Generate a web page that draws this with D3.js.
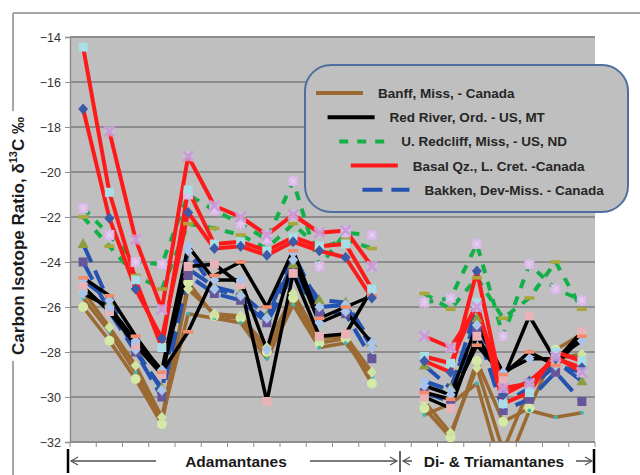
<!DOCTYPE html>
<html>
<head>
<meta charset="utf-8">
<script src="https://cdn.jsdelivr.net/npm/d3@7"></script>
<style>
html,body{margin:0;padding:0;background:#fff;}
svg{display:block;font-family:"Liberation Sans",Arial,sans-serif;}
</style>
</head>
<body>
<svg id="chart" width="640" height="475"></svg>
<script>
// ---------- DATA ----------
const categories = ["A1","A2","A3","A4","A5","A6","A7","A8","A9","A10","A11","A12","gap","D1","D2","D3","D4","D5","D6","D7"];
const yTicks = [-32,-30,-28,-26,-24,-22,-20,-18,-16,-14];
const groupNames = ["Banff, Miss, - Canada","Red River, Ord. - US, MT","U. Redcliff, Miss, - US, ND","Basal Qz., L. Cret. -Canada","Bakken, Dev-Miss. - Canada"];
const sectionLabels = ["Adamantanes","Di- & Triamantanes"];

// Banff (brown)
const banff1 = [-26.0,-27.5,-29.2,-31.2,-24.9,-26.4,-26.5,-28.0,-25.6,-27.6,-27.4,-29.4,null,-30.5,-31.8,-28.4,-31.1,-30.5,-27.9,-27.2];
const banff2 = [-25.6,-27.1,-28.9,-31.0,-26.3,-26.5,-26.7,-28.3,-25.9,-27.8,-27.6,-29.1,null,-30.8,-30.3,-29.4,-33.5,-30.6,-30.9,-30.7];
const banff3 = [-25.3,-26.9,-28.6,-30.9,-25.2,-26.3,-26.4,-27.8,-25.4,-27.4,-27.3,-28.9,null,-30.2,-31.6,-28.7,-32.4,-29.6,-28.3,-28.1];
// Red River (black)
const redRiver1 = [-25.1,-26.2,-27.7,-29.0,-24.2,-24.1,-25.0,-30.2,-24.5,-27.3,-27.2,-25.2,null,-30.0,-30.5,-27.3,-29.2,-26.4,-28.4,-27.1];
const redRiver2 = [-25.4,-26.0,-27.5,-28.8,-23.3,-24.8,-24.8,-27.9,-23.9,-26.7,-26.2,-27.6,null,-29.5,-29.9,-26.8,-28.9,-28.3,-28.3,-27.5];
const redRiver3 = [-24.7,-25.5,-27.3,-28.9,-27.1,-24.6,-24.0,-26.0,-23.5,-26.5,-26.0,-25.5,null,-29.8,-30.1,-27.7,-29.0,-28.0,-28.6,-27.3];
// U. Redcliff (green dashed)
const redcliff1 = [-21.6,-22.8,-24.0,-24.1,-21.0,-21.7,-22.3,-23.0,-20.4,-24.2,-22.7,-22.8,null,-25.8,-25.6,-23.2,-27.3,-24.1,-25.2,-25.7];
const redcliff2 = [-22.0,-23.3,-24.6,-25.2,-22.3,-22.5,-22.8,-23.4,-22.3,-23.4,-23.0,-23.4,null,-25.4,-26.1,-24.7,-26.5,-25.6,-24.0,-26.1];
// Basal Qz. (red)
const basal1 = [-14.45,-20.9,-24.8,-27.8,-20.8,-23.2,-23.1,-23.5,-22.9,-23.3,-23.2,-25.2,null,-28.2,-28.5,-25.8,-30.3,-29.8,-28.0,-28.4];
const basal2 = [-17.2,-22.05,-25.2,-27.4,-21.8,-23.4,-23.3,-23.7,-23.1,-23.5,-23.8,-25.6,null,-28.4,-28.9,-24.4,-29.9,-29.3,-28.3,-28.7];
const basal3 = [null,-18.2,-23.0,-26.1,-19.3,-21.5,-22.0,-22.8,-21.9,-22.7,-22.6,-24.2,null,-27.3,-27.8,-26.0,-29.6,-29.4,-28.2,-28.9];
// Bakken (blue dashed)
const bakken1 = [-23.2,-25.8,-28.0,-29.6,-24.3,-25.1,-25.4,-26.4,-24.1,-25.7,-25.8,-27.6,null,-28.6,-29.6,-26.5,-29.8,-29.3,-28.4,-29.3];
const bakken2 = [-24.0,-26.2,-28.0,-30.0,-24.6,-25.4,-25.7,-26.7,-24.5,-26.3,-26.3,-28.3,null,-29.8,-30.2,-27.0,-30.6,-30.1,-28.9,-30.2];
const bakken3 = [-24.8,-25.7,-27.9,-29.7,-23.5,-25.2,-25.5,-26.5,-23.6,-26.0,-25.9,-27.8,null,-29.3,-29.7,-26.0,-30.3,-29.6,-28.6,-28.9];

// ---------- STYLES ----------
const groupStyles = [
  {color:"#9b6a32", width:3.5, dash:null},
  {color:"#000000", width:3.5, dash:null},
  {color:"#13b04a", width:4, dash:"9,9"},
  {color:"#ff1a1a", width:4, dash:null},
  {color:"#2452b0", width:4, dash:"20,9"}
];
const markerStyles = {
  circle:{shape:"circle", fill:"#d5eaa6"},
  dot:{shape:"dot", fill:"#3cb8b0"},
  lgDiamond:{shape:"diamond", fill:"#cfe3a2"},
  pinkSq:{shape:"square", fill:"#e8b2b6"},
  lbDiamond:{shape:"diamond", fill:"#a9c3ea"},
  salmonDash:{shape:"dash", fill:"#f38a6c"},
  star:{shape:"star", fill:"#d5b3e3"},
  oliveDash:{shape:"dash", fill:"#a9a63c"},
  cyanSq:{shape:"square", fill:"#a9dee6"},
  dbDiamond:{shape:"diamond", fill:"#3b5ba8"},
  lavX:{shape:"x", fill:"#c99cd9"},
  oliveTri:{shape:"triangle", fill:"#8d9c3e"},
  purpleSq:{shape:"square", fill:"#66579a"}
};
const seriesList = [
  {values:banff1, group:0, marker:"circle"},
  {values:banff2, group:0, marker:"dot"},
  {values:banff3, group:0, marker:"lgDiamond"},
  {values:bakken1, group:4, marker:"oliveTri"},
  {values:bakken2, group:4, marker:"purpleSq"},
  {values:bakken3, group:4, marker:"lbDiamond"},
  {values:redRiver1, group:1, marker:"pinkSq"},
  {values:redRiver2, group:1, marker:"lbDiamond"},
  {values:redRiver3, group:1, marker:"salmonDash"},
  {values:redcliff1, group:2, marker:"star"},
  {values:redcliff2, group:2, marker:"oliveDash"},
  {values:basal1, group:3, marker:"cyanSq"},
  {values:basal2, group:3, marker:"dbDiamond"},
  {values:basal3, group:3, marker:"lavX"}
];

// ---------- CHART ----------
const svg = d3.select("#chart");
const plot = {left:70, right:595, top:37, bottom:442};

// outer frame
svg.append("line").attr("x1",13).attr("x2",640).attr("y1",13).attr("y2",13).attr("stroke","#a6a6a6").attr("stroke-width",2);
svg.append("line").attr("x1",13).attr("x2",13).attr("y1",13).attr("y2",475).attr("stroke","#a6a6a6").attr("stroke-width",2);

const x = d3.scaleBand().domain(categories).range([plot.left, plot.right]);
const y = d3.scaleLinear().domain([-32,-14]).range([plot.bottom, plot.top]);
const cx = c => x(c) + x.bandwidth()/2;

svg.append("rect").attr("x",plot.left).attr("y",plot.top).attr("width",plot.right-plot.left).attr("height",plot.bottom-plot.top).attr("fill","#bfbfbf");

// gridlines
svg.append("g").selectAll("line").data(yTicks).join("line")
  .attr("x1",plot.left).attr("x2",plot.right)
  .attr("y1",d=>y(d)).attr("y2",d=>y(d))
  .attr("stroke","#8e8e8e").attr("stroke-width",2);

// y axis
const yAxis = svg.append("g").attr("transform",`translate(${plot.left},0)`)
  .call(d3.axisLeft(y).tickValues(yTicks).tickSize(5).tickPadding(4).tickFormat(d3.format("d")));
yAxis.select(".domain").attr("stroke","#8e8e8e").attr("stroke-width",1.5);
yAxis.selectAll(".tick line").attr("stroke","#8e8e8e");
yAxis.selectAll("text").attr("font-size",12.5).attr("fill","#333").attr("font-family","Liberation Sans, Arial, sans-serif");

// x axis (category boundary ticks)
const xAxis = svg.append("g").attr("transform",`translate(0,${plot.bottom})`);
xAxis.append("line").attr("x1",plot.left).attr("x2",plot.right).attr("stroke","#8e8e8e").attr("stroke-width",1.5);
xAxis.selectAll(".bt").data(d3.range(categories.length+1)).join("line")
  .attr("x1",i=>plot.left + i*x.step()).attr("x2",i=>plot.left + i*x.step())
  .attr("y1",0).attr("y2",5).attr("stroke","#8e8e8e");

// clip
svg.append("clipPath").attr("id","clip").append("rect")
  .attr("x",plot.left).attr("y",plot.top-10).attr("width",plot.right-plot.left).attr("height",plot.bottom-plot.top+10);

const lineGen = d3.line().defined(d=>d.v!==null).x(d=>cx(d.c)).y(d=>y(d.v));
const lines = svg.append("g").attr("clip-path","url(#clip)");
seriesList.forEach(s=>{
  const st = groupStyles[s.group];
  const pts = categories.map((c,i)=>({c, v:s.values[i]}));
  lines.append("path").datum(pts).attr("d",lineGen)
    .attr("fill","none").attr("stroke",st.color).attr("stroke-width",st.width)
    .attr("stroke-linejoin","round").attr("stroke-dasharray",st.dash);
});

function drawMarker(g, shape, fill){
  switch(shape){
    case "circle": g.append("circle").attr("r",5).attr("fill",fill); break;
    case "dot": g.append("circle").attr("r",2).attr("fill",fill); break;
    case "diamond": g.append("path").attr("d","M0,-5.5L5,0L0,5.5L-5,0Z").attr("fill",fill); break;
    case "square": g.append("rect").attr("x",-4.5).attr("y",-4.5).attr("width",9).attr("height",9).attr("fill",fill); break;
    case "triangle": g.append("path").attr("d","M0,-6L5.5,4L-5.5,4Z").attr("fill",fill); break;
    case "dash": g.append("rect").attr("x",-5).attr("y",-1.8).attr("width",10).attr("height",3.6).attr("fill",fill); break;
    case "star":
      g.append("rect").attr("x",-5).attr("y",-5).attr("width",10).attr("height",10).attr("fill",fill);
      g.append("path").attr("d","M0,-5V5M-5,0H5M-3.5,-3.5L3.5,3.5M-3.5,3.5L3.5,-3.5").attr("stroke","#e3cdee").attr("stroke-width",1.2);
      break;
    case "x":
      g.append("rect").attr("x",-5).attr("y",-5).attr("width",10).attr("height",10).attr("fill","#d6bde2").attr("opacity",0.6);
      g.append("path").attr("d","M-5,-5L5,5M-5,5L5,-5").attr("stroke",fill).attr("stroke-width",2.6);
      break;
  }
}
const markers = svg.append("g").attr("clip-path","url(#clip)");
seriesList.forEach(s=>{
  const ms = markerStyles[s.marker];
  categories.forEach((c,i)=>{
    const v = s.values[i];
    if(v===null) return;
    const g = markers.append("g").attr("transform",`translate(${cx(c)},${y(v)})`);
    drawMarker(g, ms.shape, ms.fill);
  });
});

// legend
const lg = svg.append("g");
lg.append("rect").attr("x",305).attr("y",65).attr("width",323).attr("height",147).attr("rx",26).attr("ry",26)
  .attr("fill","#bfbfbf").attr("stroke","#4e6f9e").attr("stroke-width",2);
groupNames.forEach((name,i)=>{
  const st = groupStyles[i];
  const lx = 316 + i*11.6, ly = 93 + i*24.2;
  lg.append("line").attr("x1",lx).attr("x2",lx+47).attr("y1",ly).attr("y2",ly)
    .attr("stroke",st.color).attr("stroke-width",4).attr("stroke-dasharray",st.dash);
  lg.append("text").attr("x",lx+62).attr("y",ly+5).text(name)
    .attr("font-size",13.5).attr("font-weight","bold").attr("fill","#262626");
});

// y title
const ttlG = svg.append("g").attr("transform","translate(24,236) rotate(-90)");
const ttlBg = ttlG.append("rect").attr("fill","#fff");
const ttl = ttlG.append("text").attr("text-anchor","middle").attr("font-size",17).attr("font-weight","bold").attr("fill","#1a1a1a");
ttl.append("tspan").text("Carbon Isotope Ratio, δ");
ttl.append("tspan").text("13").attr("font-size",11).attr("dy",-7);
ttl.append("tspan").text("C ‰").attr("dy",7);
const bb = ttl.node().getBBox();
ttlBg.attr("x",bb.x-6).attr("y",bb.y).attr("width",bb.width+12).attr("height",bb.height);

// section annotation
const ann = svg.append("g");
const ay = 461;
ann.append("line").attr("x1",68).attr("x2",68).attr("y1",449).attr("y2",473).attr("stroke","#000").attr("stroke-width",2.5);
ann.append("line").attr("x1",594).attr("x2",594).attr("y1",449).attr("y2",473).attr("stroke","#000").attr("stroke-width",2.5);
ann.append("line").attr("x1",400).attr("x2",400).attr("y1",451).attr("y2",472).attr("stroke","#333").attr("stroke-width",1.5);
const arrows = [[156,71],[310,397],[412,403],[576,592]];
arrows.forEach(([x1,x2])=>{
  ann.append("line").attr("x1",x1).attr("x2",x2).attr("y1",ay).attr("y2",ay).attr("stroke","#7a7a7a").attr("stroke-width",2);
  const dir = x2>x1?-1:1;
  ann.append("path").attr("d",`M${x2+dir*7},${ay-4}L${x2},${ay}L${x2+dir*7},${ay+4}`).attr("fill","none").attr("stroke","#555").attr("stroke-width",1.2);
});
ann.append("text").attr("x",236).attr("y",467).attr("text-anchor","middle").attr("font-size",15.5).attr("font-weight","bold").attr("fill","#1a1a1a").text(sectionLabels[0]);
ann.append("text").attr("x",494).attr("y",467).attr("text-anchor","middle").attr("font-size",15.5).attr("font-weight","bold").attr("fill","#1a1a1a").text(sectionLabels[1]);
</script>
</body>
</html>
